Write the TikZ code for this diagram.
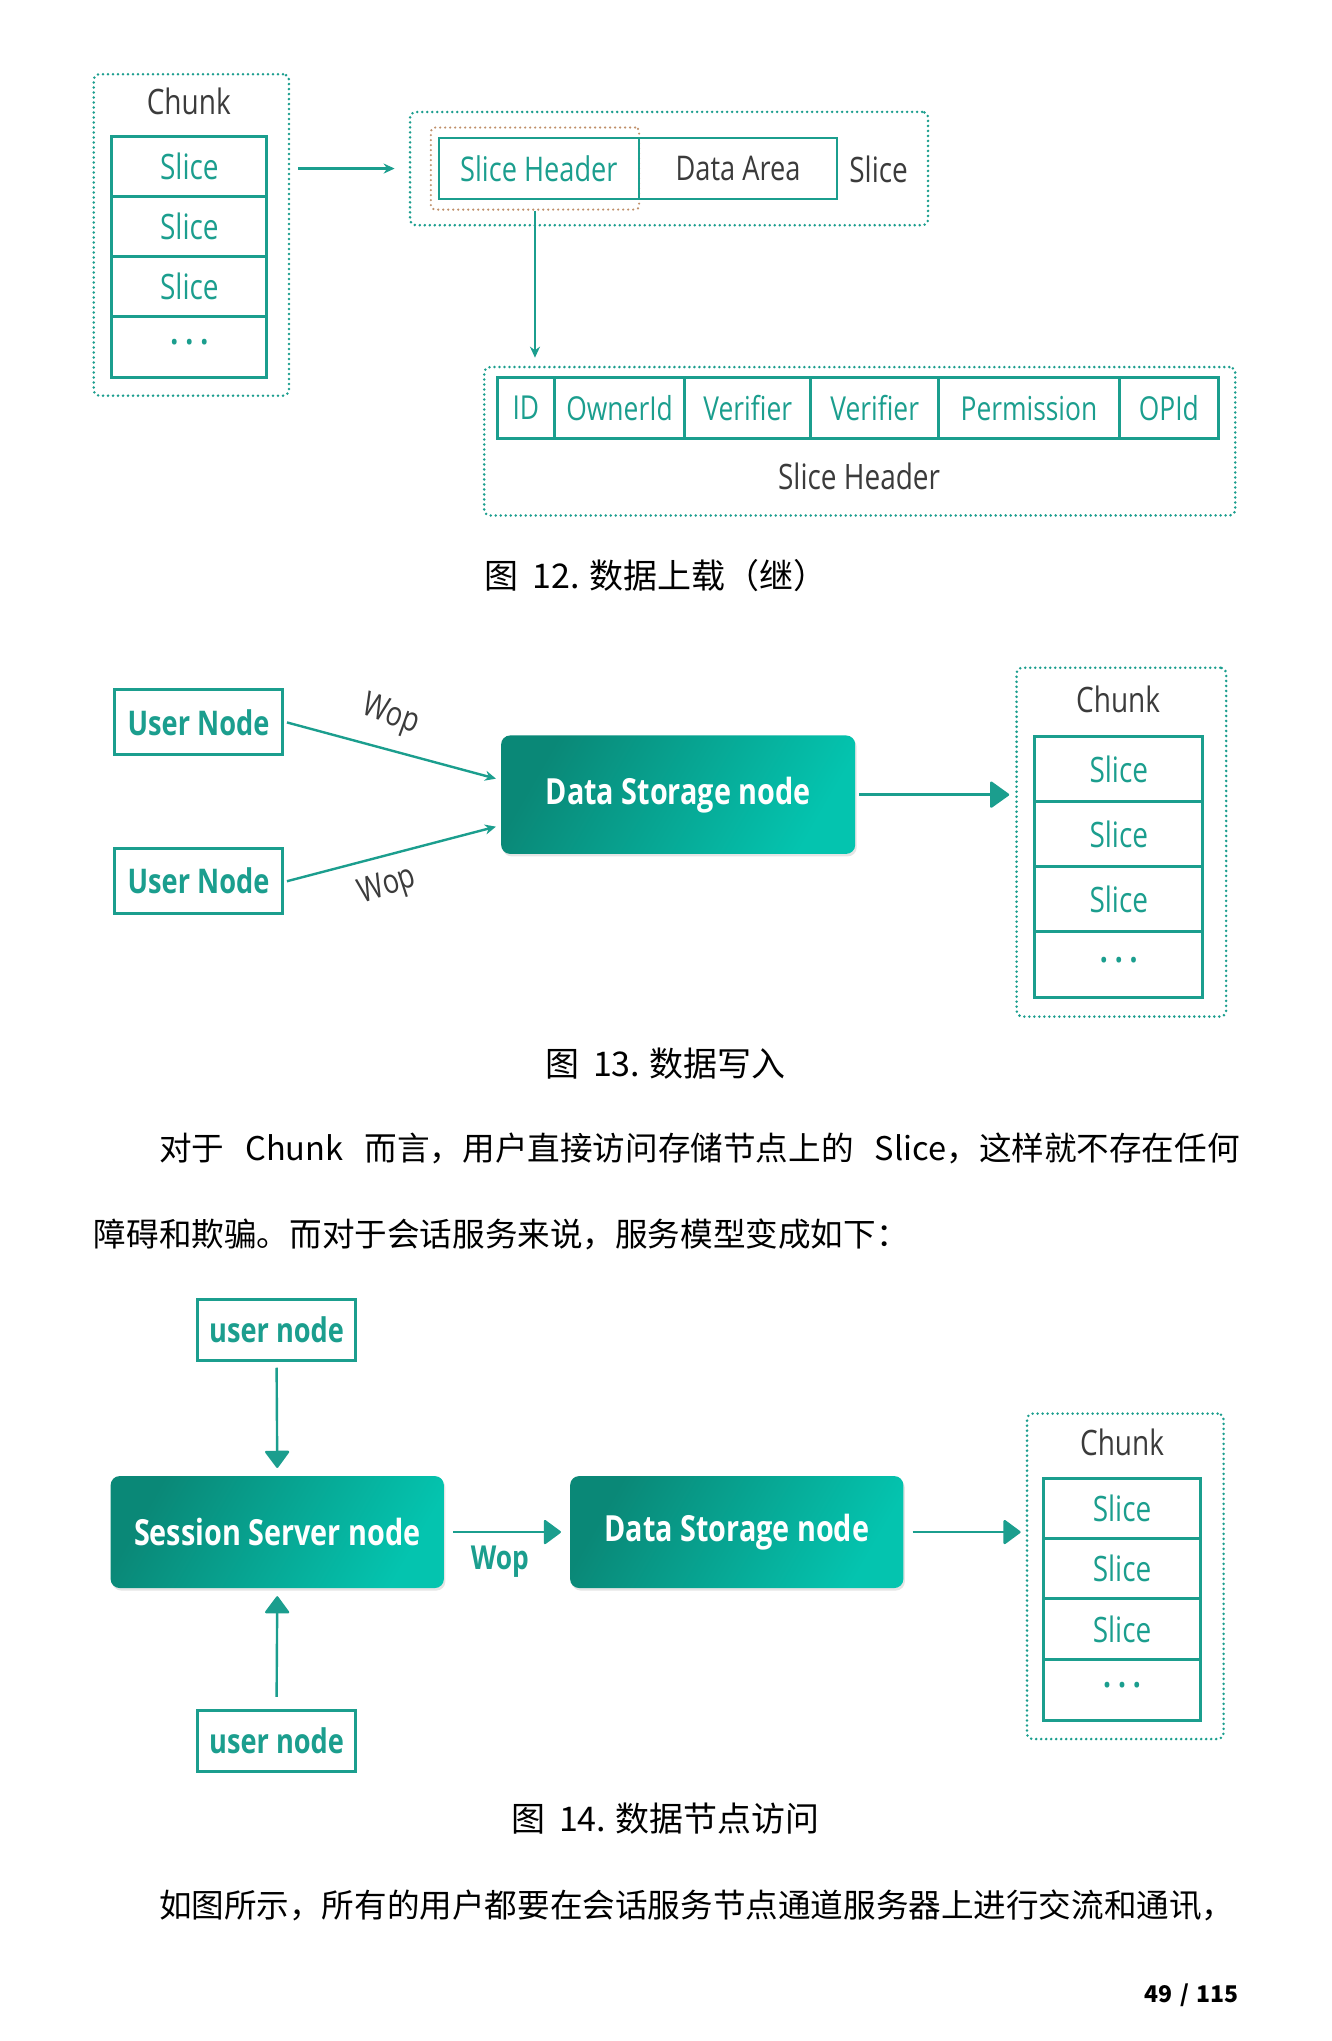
\documentclass[tikz,border=0pt]{standalone}
\usepackage{fontspec}
\setmainfont{Noto Sans CJK SC}
\newfontfamily\dg[FakeStretch=0.8]{Open Sans}
\newfontfamily\cjk{Noto Sans CJK SC}
\usetikzlibrary{arrows.meta,calc,shadows}
\definecolor{tl}{HTML}{1B9E8E}
\definecolor{tlD}{HTML}{0A8877}
\definecolor{tlL}{HTML}{04C4AF}
\definecolor{gt}{HTML}{3B3B3B}
\definecolor{orng}{HTML}{C0906A}
\tikzset{
 dotbox/.style={draw=tl, line width=2.8pt, dash pattern=on 0pt off 5pt, line cap=round, rounded corners=6pt, inner sep=0pt},
 orbox/.style={draw=orng, line width=2.4pt, dash pattern=on 0pt off 5pt, line cap=round, rounded corners=4pt, inner sep=0pt},
 slicebox/.style={draw=tl, line width=3pt, inner sep=0pt, text=tl, font=\dg\fontsize{35}{40}\selectfont},
 fieldbox/.style={draw=tl, line width=3pt, inner sep=0pt, text=tl, font=\dg\fontsize{33}{40}\selectfont},
 hdrbox/.style={draw=tl, line width=2.2pt, inner sep=0pt, font=\dg\fontsize{34}{40}\selectfont},
 usrbox/.style={draw=tl, line width=3pt, inner sep=0pt, text=tl, font=\dg\bfseries\fontsize{34}{40}\selectfont},
 fillbox/.style={rounded corners=9pt, inner sep=0pt, left color=tlD, right color=tlL, shading angle=60, text=white, font=\dg\bfseries\fontsize{36}{40}\selectfont, drop shadow={opacity=0.2, shadow xshift=1.5pt, shadow yshift=-2.5pt}},
 gtext/.style={text=gt, font=\dg\fontsize{35}{40}\selectfont, inner sep=0pt},
 woptxt/.style={text=gt, font=\dg\fontsize{34}{40}\selectfont, inner sep=0pt},
 wopbold/.style={text=tl, font=\dg\bfseries\fontsize{33}{40}\selectfont, inner sep=0pt},
 captxt/.style={font=\cjk\fontsize{34}{38}\selectfont, inner sep=0pt},
 bodytxt/.style={font=\cjk\fontsize{32.6}{40}\selectfont, inner sep=0pt, anchor=west},
 arrS/.style={draw=tl, line width=2.4pt, -{Stealth[length=11pt,width=10pt]}},
 arrB/.style={draw=tl, line width=2.4pt, -{Triangle[length=20pt,width=28pt,round]}},
 arrM/.style={draw=tl, line width=2.4pt, -{Triangle[length=18pt,width=26pt,round]}},
}
\newcommand\mydots{{\bfseries ·\hspace{7pt}·\hspace{7pt}·}}
% box: style, x1, y1, x2, y2, name, text
\newcommand\bx[7]{\node[#1, minimum width={(#4-#2)*1.302pt}, minimum height={(#5-#3)*1.302pt}] (#6) at ({(#2+#4)/2},{(#3+#5)/2}) {#7};}
\begin{document}
\begin{tikzpicture}[x=1.302pt,y=-1.302pt]
\useasboundingbox (0,0) rectangle (1023,1568);
\fill[white] (0,0) rectangle (1023,1568);

% ---------- Figure 12 ----------
\bx{dotbox}{72}{57}{222}{304}{ck1}{}
\node[gtext] (ck1t) at (145,78) {Chunk};
\bx{slicebox}{86}{105}{205}{151}{ck1a}{Slice}
\bx{slicebox}{86}{151}{205}{197}{ck1b}{Slice}
\bx{slicebox}{86}{197}{205}{243}{ck1c}{Slice}
\bx{slicebox}{86}{243}{205}{290}{ck1d}{\mydots}

\bx{dotbox}{315}{86}{713}{173}{sl}{}
\bx{orbox}{331}{98}{491}{161}{shsel}{}
\bx{hdrbox,text=tl}{337}{106}{491}{153}{sh}{Slice Header}
\bx{hdrbox,text=gt}{491}{106}{643}{153}{da}{Data Area}
\node[gtext] (slt) at (675,130) {Slice};
\draw[arrS] ($(ck1.east |- sh.west)+(8pt,0)$) -- ($(sl.west |- sh.west)+(-14pt,0)$);

\bx{dotbox}{372}{282}{949}{396}{shb}{}
\draw[arrS] (shsel.south) -- ($(shsel.south |- shb.north)+(0pt,8pt)$);
\bx{fieldbox}{382}{290}{426}{337}{f1}{ID}
\bx{fieldbox}{426}{290}{526}{337}{f2}{OwnerId}
\bx{fieldbox}{526}{290}{623}{337}{f3}{Verifier}
\bx{fieldbox}{623}{290}{721}{337}{f4}{Verifier}
\bx{fieldbox}{721}{290}{860}{337}{f5}{Permission}
\bx{fieldbox}{860}{290}{936}{337}{f6}{OPId}
\node[gtext] (shbt) at (660,366) {Slice Header};
\node[captxt] (cap12) at (504,442) {图\hspace{14pt}12.\hspace{9pt}数据上载（继）};

% ---------- Figure 13 ----------
\bx{usrbox}{88}{530}{217}{580}{u1}{User Node}
\bx{usrbox}{88}{652}{217}{702}{u2}{User Node}
\bx{fillbox}{385}{565}{657}{656}{ds1}{Data Storage node}
\draw[arrS] ($(u1.east)+(3pt,0)$) -- ($(ds1.west)+(-5pt,16pt)$);
\draw[arrS] ($(u2.east)+(3pt,0)$) -- ($(ds1.west)+(-5pt,-32pt)$);
\node[woptxt, rotate=-20] (w1) at (300,550) {Wop};
\node[woptxt, rotate=18] (w2) at (298,681) {Wop};

\bx{dotbox}{781}{513}{942}{781}{ck2}{}
\node[gtext] (ck2t) at (859,537) {Chunk};
\bx{slicebox}{795}{566}{924}{616}{ck2a}{Slice}
\bx{slicebox}{795}{616}{924}{666}{ck2b}{Slice}
\bx{slicebox}{795}{666}{924}{716}{ck2c}{Slice}
\bx{slicebox}{795}{716}{924}{766}{ck2d}{\mydots}
\draw[arrB] ($(ds1.east)+(4pt,0)$) -- ($(ck2.west |- ds1.east)+(-6pt,0)$);
\node[captxt] (cap13) at (511,817) {图\hspace{14pt}13.\hspace{9pt}数据写入};

% ---------- body ----------
\node[bodytxt] (b1) at (122,882) {\hbox to 1081pt{对于\hfill Chunk\hfill 而言，用户直接访问存储节点上的\hfill Slice，这样就不存在任何}};
\node[bodytxt] (b2) at (72,948) {障碍和欺骗。而对于会话服务来说，服务模型变成如下：};

% ---------- Figure 14 ----------
\bx{usrbox}{152}{998}{273}{1045}{un3}{user node}
\bx{usrbox}{152}{1314}{273}{1361}{un4}{user node}
\bx{fillbox}{85}{1134}{341}{1220}{ss}{Session Server node}
\bx{fillbox}{438}{1134}{694}{1220}{ds2}{Data Storage node}
\draw[arrM] ($(un3.south)+(0,-6pt)$) -- ($(ss.north)+(0,8pt)$);
\draw[arrM] ($(un4.north)+(0,12pt)$) -- ($(ss.south)+(0,-8pt)$);
\draw[arrM] ($(ss.east)+(9pt,0)$) -- ($(ds2.west)+(-9pt,0)$);
\node[wopbold] (w3) at (384,1200) {Wop};

\bx{dotbox}{789}{1086}{940}{1336}{ck3}{}
\node[gtext] (ck3t) at (862,1108) {Chunk};
\bx{slicebox}{802}{1136}{922}{1182}{ck3a}{Slice}
\bx{slicebox}{802}{1182}{922}{1228}{ck3b}{Slice}
\bx{slicebox}{802}{1228}{922}{1275}{ck3c}{Slice}
\bx{slicebox}{802}{1275}{922}{1322}{ck3d}{\mydots}
\draw[arrM] ($(ds2.east)+(9pt,0)$) -- ($(ck3.west |- ds2.east)+(-5pt,0)$);
\node[captxt] (cap14) at (511,1397) {图\hspace{14pt}14.\hspace{9pt}数据节点访问};

\node[bodytxt] (b3) at (122,1464) {如图所示，所有的用户都要在会话服务节点通道服务器上进行交流和通讯，};
\node[anchor=east, inner sep=0pt, font=\cjk\bfseries\fontsize{23}{28}\selectfont] (pg) at (952,1533) {49\hspace{8pt}/\hspace{8pt}115};
\end{tikzpicture}
\end{document}
